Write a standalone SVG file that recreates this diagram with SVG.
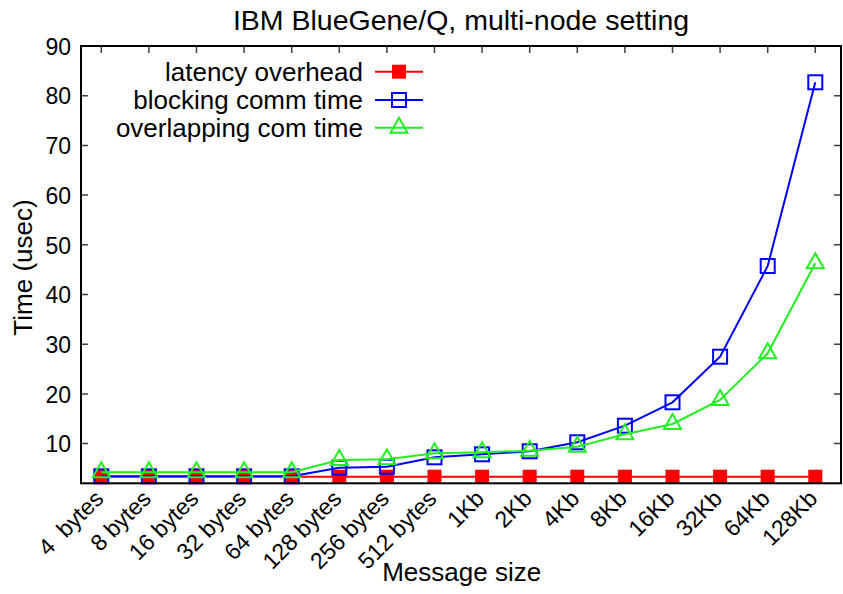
<svg xmlns="http://www.w3.org/2000/svg" xmlns:xlink="http://www.w3.org/1999/xlink" width="843" height="594" viewBox="0 0 843 594">
<style>
text{font-family:"Liberation Sans",Arial,Helvetica,sans-serif;fill:#000}
.tick{font-size:23px}
.ylab{text-anchor:end}
.xlab{text-anchor:end;white-space:pre}
.leg{font-size:26px;text-anchor:end}
.frame{fill:none;stroke:#000;stroke-width:2}
.tk{stroke:#404040;stroke-width:1.5}
.red{stroke:#ff0000;stroke-width:2;fill:none}
.blue{stroke:#0000ff;stroke-width:2;fill:none}
.green{stroke:#22ee22;stroke-width:2;fill:none}
.msq{fill:#ff0000;stroke:none}
.bsq{fill:none;stroke:#0000ff;stroke-width:2}
.gtr{fill:none;stroke:#22ee22;stroke-width:2}
</style>
<defs>
<rect id="sq" x="-7" y="-7" width="14" height="14"/>
<path id="tri" d="M0,-10 L8.5,5 L-8.5,5 Z"/>
</defs>
<rect width="843" height="594" fill="#fff"/>
<text x="461" y="29.5" font-size="28.5" text-anchor="middle">IBM BlueGene/Q, multi-node setting</text>
<g id="axes">
<g class="tk">
<path d="M81,443.6h7M81,393.9h7M81,344.2h7M81,294.5h7M81,244.8h7M81,195.1h7M81,145.4h7M81,95.7h7"/>
<path d="M841,443.6h-7M841,393.9h-7M841,344.2h-7M841,294.5h-7M841,244.8h-7M841,195.1h-7M841,145.4h-7M841,95.7h-7"/>
<path d="M101.3,46v7M148.9,46v7M196.5,46v7M244.1,46v7M291.7,46v7M339.3,46v7M386.9,46v7M434.5,46v7M482.1,46v7M529.7,46v7M577.3,46v7M624.9,46v7M672.5,46v7M720.1,46v7M767.7,46v7M815.3,46v7"/>
<path d="M101.3,483.3v-7M148.9,483.3v-7M196.5,483.3v-7M244.1,483.3v-7M291.7,483.3v-7M339.3,483.3v-7M386.9,483.3v-7M434.5,483.3v-7M482.1,483.3v-7M529.7,483.3v-7M577.3,483.3v-7M624.9,483.3v-7M672.5,483.3v-7M720.1,483.3v-7M767.7,483.3v-7M815.3,483.3v-7"/>
</g>
<g class="tick ylab">
<text x="71" y="452.3">10</text>
<text x="71" y="402.6">20</text>
<text x="71" y="352.9">30</text>
<text x="71" y="303.2">40</text>
<text x="71" y="253.5">50</text>
<text x="71" y="203.8">60</text>
<text x="71" y="154.1">70</text>
<text x="71" y="104.4">80</text>
<text x="71" y="54.7">90</text>
</g>
<g class="tick xlab">
<text transform="translate(104.8,500) rotate(-45)" xml:space="preserve">4  bytes</text>
<text transform="translate(152.4,500) rotate(-45)">8 bytes</text>
<text transform="translate(200,500) rotate(-45)">16 bytes</text>
<text transform="translate(247.6,500) rotate(-45)">32 bytes</text>
<text transform="translate(295.2,500) rotate(-45)">64 bytes</text>
<text transform="translate(342.8,500) rotate(-45)">128 bytes</text>
<text transform="translate(390.4,500) rotate(-45)">256 bytes</text>
<text transform="translate(438,500) rotate(-45)">512 bytes</text>
<text transform="translate(485.6,500) rotate(-45)">1Kb</text>
<text transform="translate(533.2,500) rotate(-45)">2Kb</text>
<text transform="translate(580.8,500) rotate(-45)">4Kb</text>
<text transform="translate(628.4,500) rotate(-45)">8Kb</text>
<text transform="translate(676,500) rotate(-45)">16Kb</text>
<text transform="translate(723.6,500) rotate(-45)">32Kb</text>
<text transform="translate(771.2,500) rotate(-45)">64Kb</text>
<text transform="translate(818.8,500) rotate(-45)">128Kb</text>
</g>
<text x="461.7" y="581" font-size="26" text-anchor="middle">Message size</text>
<text transform="translate(31.5,267.5) rotate(-90)" font-size="26" text-anchor="middle">Time (usec)</text>
</g>
<g id="series-latency">
<polyline class="red" points="101.3,476.7 148.9,476.7 196.5,476.7 244.1,476.7 291.7,476.7 339.3,476.7 386.9,476.7 434.5,476.7 482.1,476.7 529.7,476.7 577.3,476.7 624.9,476.7 672.5,476.7 720.1,476.7 767.7,476.7 815.3,476.7"/>
<g class="msq">
<use xlink:href="#sq" x="101.3" y="476.7"/><use xlink:href="#sq" x="148.9" y="476.7"/><use xlink:href="#sq" x="196.5" y="476.7"/><use xlink:href="#sq" x="244.1" y="476.7"/><use xlink:href="#sq" x="291.7" y="476.7"/><use xlink:href="#sq" x="339.3" y="476.7"/><use xlink:href="#sq" x="386.9" y="476.7"/><use xlink:href="#sq" x="434.5" y="476.7"/><use xlink:href="#sq" x="482.1" y="476.7"/><use xlink:href="#sq" x="529.7" y="476.7"/><use xlink:href="#sq" x="577.3" y="476.7"/><use xlink:href="#sq" x="624.9" y="476.7"/><use xlink:href="#sq" x="672.5" y="476.7"/><use xlink:href="#sq" x="720.1" y="476.7"/><use xlink:href="#sq" x="767.7" y="476.7"/><use xlink:href="#sq" x="815.3" y="476.7"/>
</g>
</g>
<g id="series-blocking">
<polyline class="blue" points="101.3,476.3 148.9,476.3 196.5,476.3 244.1,476.3 291.7,476.3 339.3,467.7 386.9,466.7 434.5,457.3 482.1,454.3 529.7,451.3 577.3,442.3 624.9,425.7 672.5,402.3 720.1,356.7 767.7,266 815.3,82.3"/>
<g class="bsq">
<use xlink:href="#sq" x="101.3" y="476.3"/><use xlink:href="#sq" x="148.9" y="476.3"/><use xlink:href="#sq" x="196.5" y="476.3"/><use xlink:href="#sq" x="244.1" y="476.3"/><use xlink:href="#sq" x="291.7" y="476.3"/><use xlink:href="#sq" x="339.3" y="467.7"/><use xlink:href="#sq" x="386.9" y="466.7"/><use xlink:href="#sq" x="434.5" y="457.3"/><use xlink:href="#sq" x="482.1" y="454.3"/><use xlink:href="#sq" x="529.7" y="451.3"/><use xlink:href="#sq" x="577.3" y="442.3"/><use xlink:href="#sq" x="624.9" y="425.7"/><use xlink:href="#sq" x="672.5" y="402.3"/><use xlink:href="#sq" x="720.1" y="356.7"/><use xlink:href="#sq" x="767.7" y="266"/><use xlink:href="#sq" x="815.3" y="82.3"/>
</g>
</g>
<g id="series-overlapping">
<polyline class="green" points="101.3,472.3 148.9,472.3 196.5,472.3 244.1,472.3 291.7,472.3 339.3,460 386.9,459.3 434.5,453.3 482.1,452.3 529.7,450.7 577.3,446.7 624.9,434.3 672.5,424 720.1,400 767.7,353.3 815.3,263.3"/>
<g class="gtr">
<use xlink:href="#tri" x="101.3" y="472.3"/><use xlink:href="#tri" x="148.9" y="472.3"/><use xlink:href="#tri" x="196.5" y="472.3"/><use xlink:href="#tri" x="244.1" y="472.3"/><use xlink:href="#tri" x="291.7" y="472.3"/><use xlink:href="#tri" x="339.3" y="460"/><use xlink:href="#tri" x="386.9" y="459.3"/><use xlink:href="#tri" x="434.5" y="453.3"/><use xlink:href="#tri" x="482.1" y="452.3"/><use xlink:href="#tri" x="529.7" y="450.7"/><use xlink:href="#tri" x="577.3" y="446.7"/><use xlink:href="#tri" x="624.9" y="434.3"/><use xlink:href="#tri" x="672.5" y="424"/><use xlink:href="#tri" x="720.1" y="400"/><use xlink:href="#tri" x="767.7" y="353.3"/><use xlink:href="#tri" x="815.3" y="263.3"/>
</g>
</g>
<g id="legend">
<text class="leg" x="363" y="80.5">latency overhead</text>
<text class="leg" x="363" y="108.8">blocking comm time</text>
<text class="leg" x="363" y="136.5">overlapping com time</text>
<path class="red" d="M375,71.7h48"/>
<use class="msq" xlink:href="#sq" x="399" y="71.7"/>
<path class="blue" d="M375,100h48"/>
<use class="bsq" xlink:href="#sq" x="399" y="100"/>
<path class="green" d="M375,127.7h48"/>
<use class="gtr" xlink:href="#tri" x="399" y="127.7"/>
</g>
<rect class="frame" x="81" y="46" width="760" height="437.3"/>
</svg>
